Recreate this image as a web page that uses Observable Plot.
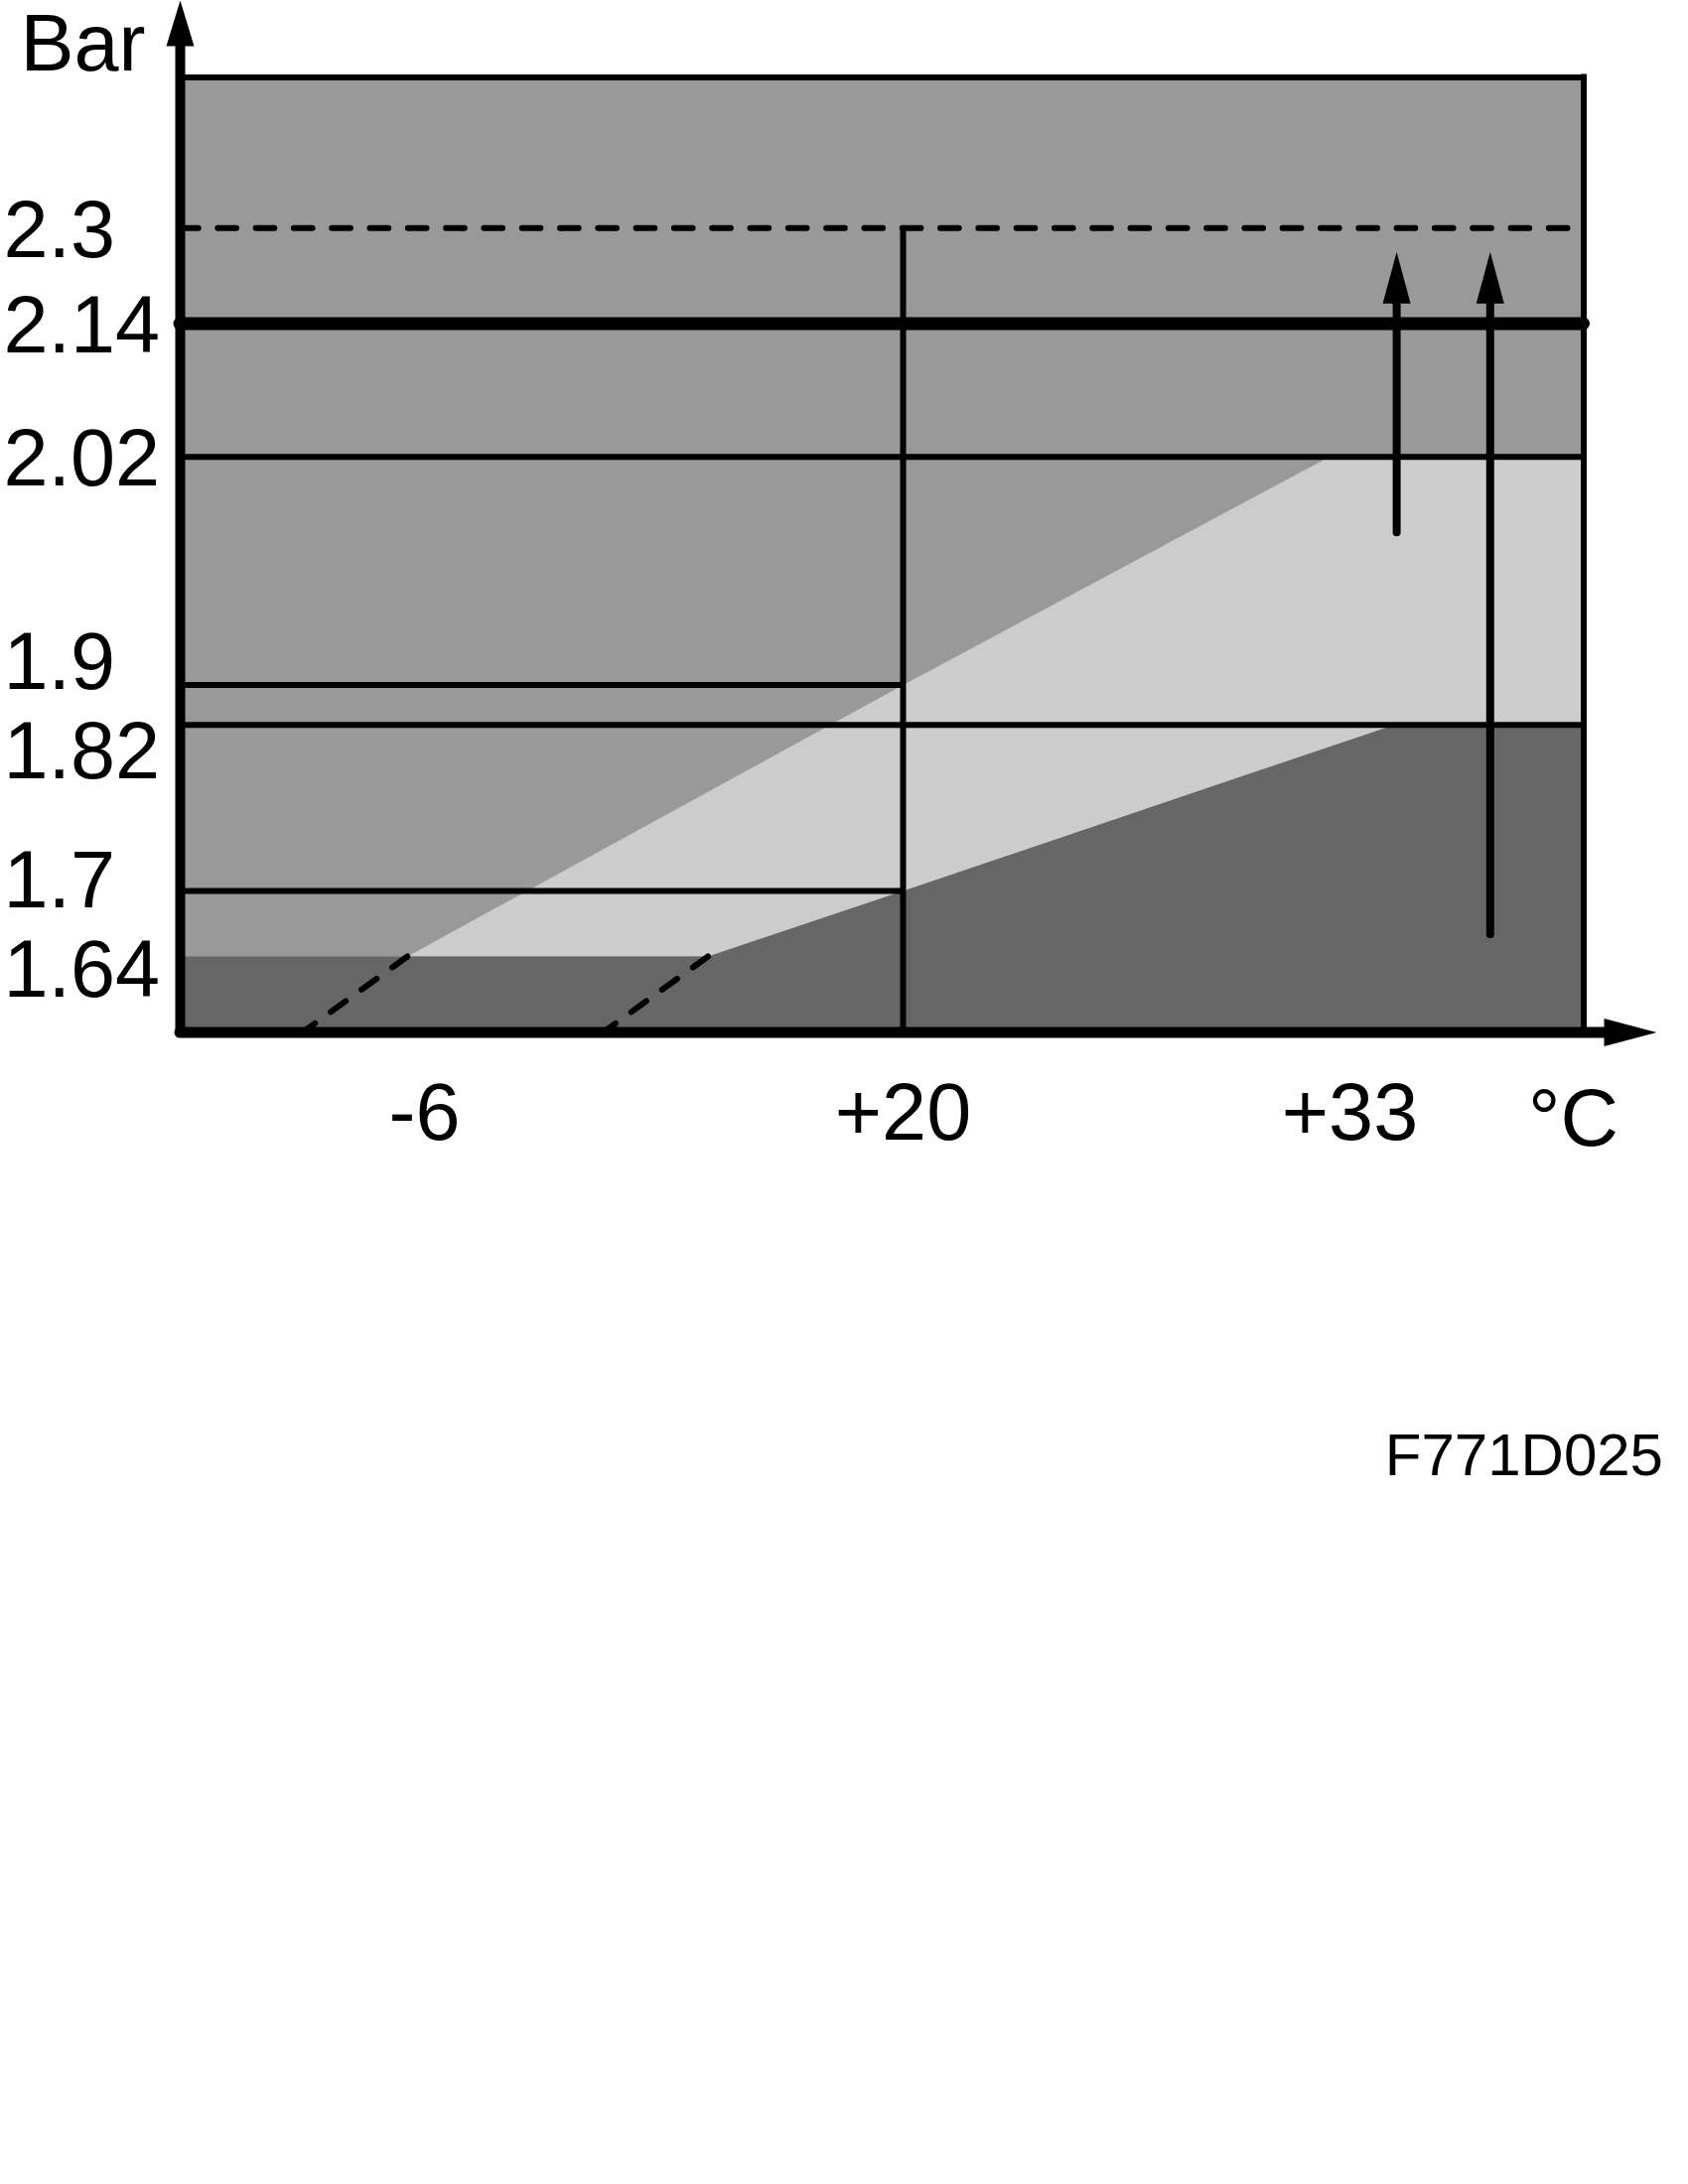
<!DOCTYPE html>
<html>
<head>
<meta charset="utf-8">
<script src="https://cdn.jsdelivr.net/npm/d3@7"></script>
<script src="https://cdn.jsdelivr.net/npm/@observablehq/plot@0.6"></script>
<style>
  html, body { margin: 0; padding: 0; background: #fff; }
  #chart { position: relative; width: 1700px; height: 2200px; }
  #chart svg { display: block; }
  #code { position: absolute; top: 1436px; right: 25px; font-family: 'Liberation Sans', Arial, Helvetica, sans-serif; font-size: 60px; line-height: 60px; color: #000; }
</style>
</head>
<body>
<div id="chart"></div>
<script>
// ---------------- data ----------------
const pressureTicks = [2.3, 2.14, 2.02, 1.9, 1.82, 1.7, 1.64];   // Bar
const tempTicks = [-6, 20, 33];                                   // °C
const tempLabels = ["-6", "+20", "+33"];
const tempKnots = [-16, -6, 20, 33, 42];                          // schematic (piecewise) temperature axis
const barKnots = [1.6, 1.64, 1.7, 1.82, 1.9, 2.02, 2.14, 2.3, 2.4]; // schematic (piecewise) pressure axis
const upperTemp = [-6.7, 20, 32.4, 42];
const upperBar  = [1.64, 1.9, 2.02, 2.02];
const lowerTemp = [9.4, 20, 34.7, 42];
const lowerBar  = [1.64, 1.7, 1.82, 1.82];
const dashTopTemp = [-6.7, 9.4];
const dashBottomTemp = [-11, 3.7];
const fullLines = [2.02, 1.82];
const shortLines = [1.9, 1.7];
const dashedLimit = [2.3];
const boldLimit = [2.14];
const refTemp = [20];
const arrowTemp = [34.8, 38.4];
const arrowFrom = [1.98, 1.66];
const arrowTo   = [2.26, 2.26];
const yAxisLabel = "Bar";
const xAxisLabel = "°C";
const figureCode = "F771D025";

// ---------------- scales (schematic, piecewise linear) ----------------
const xRange = [181, 427, 909, 1359, 1594.5];
const yRange = [1039.5, 963, 897, 729.7, 689.5, 459.7, 325.5, 229.3, 77.5];
const X = Plot.scale({x: {type: "linear", domain: tempKnots, range: xRange}});
const Y = Plot.scale({y: {type: "linear", domain: barKnots, range: yRange}});

const xMin = tempKnots[0], xMax = tempKnots[tempKnots.length - 1];
const yMin = barKnots[0], yMax = barKnots[barKnots.length - 1];

// polygons
const lightPoly = upperTemp.map((t, i) => ({t, b: upperBar[i]})).concat([{t: xMax, b: upperBar[0]}]);
const darkPoly = [{t: xMin, b: lowerBar[0]}]
  .concat(lowerTemp.map((t, i) => ({t, b: lowerBar[i]})))
  .concat([{t: xMax, b: yMin}, {t: xMin, b: yMin}]);

// spread y labels that would overlap (in pixel space), then map back through the scale
const minGap = 90;
const px = pressureTicks.map(v => Y.apply(v));
const order = d3.range(px.length).sort((a, b) => px[a] - px[b]);
for (let k = 1; k < order.length; k++) {
  const a = order[k - 1], b = order[k];
  if (px[b] - px[a] < minGap) {
    const mid = (px[a] + px[b]) / 2;
    px[a] = mid - minGap / 2;
    px[b] = mid + minGap / 2;
  }
}
const labelBar = px.map(p => Y.invert(p));

// arrow geometry (styles)
const headLen = 52, headR = 14;
const axisHeadY = 46, axisHeadX = 53, axisHeadR = 14;
const yTip = Y.invert(0);
const xTip = X.invert(X.apply(xMax) + 73.5);
const arrowIdx = d3.range(arrowTemp.length);
const dashIdx = d3.range(dashTopTemp.length);

const FONT = "'Liberation Sans', Arial, Helvetica, sans-serif";
const dash = "18.7,19.6";

const chart = Plot.plot({
  width: 1700,
  height: 1200,
  marginLeft: 181, marginRight: 105.5, marginTop: 77.5, marginBottom: 160.5,
  x: {type: "linear", domain: tempKnots, range: xRange, axis: null},
  y: {type: "linear", domain: barKnots, range: yRange, axis: null},
  style: {fontFamily: FONT, background: "#fff", color: "#000", overflow: "visible"},
  marks: [
    // background of the frame
    Plot.rect([0], {x1: () => xMin, x2: () => xMax, y1: () => yMin, y2: () => yMax, fill: "#999999"}),
    // light band (below upper boundary)
    Plot.line(lightPoly, {x: "t", y: "b", fill: "#cccccc", stroke: "none"}),
    // dark region (below lower boundary)
    Plot.line(darkPoly, {x: "t", y: "b", fill: "#666666", stroke: "none"}),
    // dashed extensions
    Plot.link(dashIdx, {
      x1: i => dashTopTemp[i], y1: () => lowerBar[0],
      x2: i => dashBottomTemp[i], y2: () => yMin,
      stroke: "#000", strokeWidth: 6, strokeDasharray: dash, strokeLinecap: "round"
    }),
    // level lines
    Plot.ruleY(fullLines, {x1: () => xMin, x2: () => xMax, stroke: "#000", strokeWidth: 6}),
    Plot.ruleY(shortLines, {x1: () => xMin, x2: () => refTemp[0], stroke: "#000", strokeWidth: 6}),
    Plot.ruleY(dashedLimit, {x1: () => xMin, x2: () => xMax, stroke: "#000", strokeWidth: 6, strokeDasharray: dash, strokeLinecap: "round"}),
    Plot.ruleX(refTemp, {y1: () => dashedLimit[0], y2: () => yMin, stroke: "#000", strokeWidth: 6}),
    // arrows in the chart
    Plot.ruleX(arrowIdx, {
      x: i => arrowTemp[i], y1: i => arrowFrom[i],
      y2: i => Y.invert(Y.apply(arrowTo[i]) + headLen - 3),
      stroke: "#000", strokeWidth: 8, strokeLinecap: "round"
    }),
    Plot.vector(arrowIdx, {
      x: i => arrowTemp[i], y: i => arrowTo[i], anchor: "end",
      length: headLen, r: headR, shape: "spike", fill: "#000", stroke: "none"
    }),
    // bold limit line
    Plot.ruleY(boldLimit, {x1: () => xMin, x2: () => xMax, stroke: "#000", strokeWidth: 13, strokeLinecap: "round"}),
    // frame top & right
    Plot.ruleY([yMax], {x1: () => xMin, x2: () => xMax, stroke: "#000", strokeWidth: 6, strokeLinecap: "square"}),
    Plot.ruleX([xMax], {y1: () => yMin, y2: () => yMax, stroke: "#000", strokeWidth: 6, strokeLinecap: "square"}),
    // axes with arrows
    Plot.ruleX([xMin], {y1: () => yMin, y2: () => Y.invert(axisHeadY - 3), stroke: "#000", strokeWidth: 10, strokeLinecap: "round"}),
    Plot.vector([0], {x: () => xMin, y: () => yTip, anchor: "end", length: axisHeadY, r: axisHeadR, shape: "spike", fill: "#000", stroke: "none"}),
    Plot.ruleY([yMin], {x1: () => xMin, x2: () => X.invert(X.apply(xTip) - axisHeadX + 3), stroke: "#000", strokeWidth: 11, strokeLinecap: "round"}),
    Plot.vector([0], {x: () => xTip, y: () => yMin, anchor: "end", rotate: 90, length: axisHeadX, r: axisHeadR, shape: "spike", fill: "#000", stroke: "none"}),
    // tick labels
    Plot.text(pressureTicks, {
      x: () => xMin, y: (d, i) => labelBar[i], text: d => String(d),
      textAnchor: "start", dx: -178, dy: 3, fontSize: 81, fontFamily: FONT, fill: "#000"
    }),
    Plot.text(tempTicks, {
      x: d => d, y: () => yMin, text: (d, i) => tempLabels[i],
      lineAnchor: "bottom", dy: 108, fontSize: 81, fontFamily: FONT, fill: "#000"
    }),
    // axis labels
    Plot.text([yAxisLabel], {
      x: () => xMin, y: () => yMax, text: d => d, textAnchor: "end", lineAnchor: "bottom",
      dx: -35, dy: -7.5, fontSize: 81, fontFamily: FONT, fill: "#000"
    }),
    Plot.text([xAxisLabel], {
      x: () => xMax, y: () => yMin, text: d => d, textAnchor: "start", lineAnchor: "bottom",
      dx: -56, dy: 113.5, fontSize: 81, fontFamily: FONT, fill: "#000"
    })
  ]
});

const host = document.getElementById("chart");
host.appendChild(chart);
const code = document.createElement("div");
code.id = "code";
code.textContent = figureCode;
host.appendChild(code);
</script>
</body>
</html>
